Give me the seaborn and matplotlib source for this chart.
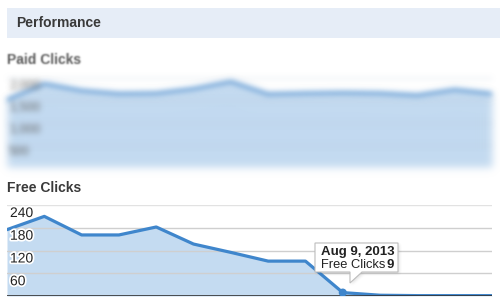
import numpy as np
import pandas as pd
import matplotlib
matplotlib.use("Agg")
import matplotlib.pyplot as plt
import matplotlib.patheffects as pe
import matplotlib.transforms as mtransforms
from matplotlib.patches import Rectangle, Polygon
import seaborn as sns

# ---------------- data ----------------
days = ["Jul 31", "Aug 1", "Aug 2", "Aug 3", "Aug 4", "Aug 5", "Aug 6",
        "Aug 7", "Aug 8", "Aug 9", "Aug 10", "Aug 11", "Aug 12", "Aug 13"]
paid_clicks = [1505, 1865, 1710, 1640, 1650, 1750, 1910,
               1630, 1650, 1660, 1650, 1605, 1730, 1640]
free_clicks = [175, 210, 161, 161, 182, 137, 115,
               92, 92, 9, 2, 1, 1, 1]
paid_ticks = [500, 1000, 1500, 2000]
paid_tick_labels = ["500", "1,000", "1,500", "2,000"]
free_ticks = [60, 120, 180, 240]
free_tick_labels = ["60", "120", "180", "240"]
highlight_index = 9
tooltip_date = "Aug 9, 2013"
tooltip_series = "Free Clicks"

# ---------------- style ----------------
sns.set_theme(style="white")
plt.rcParams["font.family"] = ["Liberation Sans", "DejaVu Sans"]

W, H = 500, 305
fig = plt.figure(figsize=(W / 100, H / 100), dpi=100)
fig.patch.set_facecolor("white")

LINE = "#3f86cc"
FILL = "#c4dbf1"
GRID = "#cfcfcf"


def rect(x0, y0, x1, y1):
    return [x0 / W, 1 - y1 / H, (x1 - x0) / W, (y1 - y0) / H]


def fx(x):
    return x / W


def fy(y):
    return 1 - y / H


def make_blur(sigma):
    r = int(3 * sigma) + 1
    xs = np.arange(-r, r + 1)
    k = np.exp(-xs ** 2 / (2.0 * sigma ** 2))
    k /= k.sum()

    def conv(arr, axis):
        n = arr.shape[axis]
        padw = [(r, r) if i == axis else (0, 0) for i in range(arr.ndim)]
        p = np.pad(arr, padw)
        out = np.zeros_like(arr)
        for j, w in enumerate(k):
            sl = [slice(None)] * arr.ndim
            sl[axis] = slice(j, j + n)
            out += w * p[tuple(sl)]
        return out

    def filt(im, dpi):
        a = np.pad(im, ((r, r), (r, r), (0, 0))).astype(float)
        pre = a.copy()
        pre[..., :3] *= pre[..., 3:4]
        pre = conv(conv(pre, 0), 1)
        alpha = pre[..., 3:4]
        out = pre.copy()
        out[..., :3] = pre[..., :3] / np.maximum(alpha, 1e-6)
        out = np.clip(out, 0, 1)
        return out, -r, -r

    return filt


blur = make_blur(2.8)
soft = make_blur(0.8)

# ---------------- header ----------------
fig.patches.append(Rectangle((fx(7), fy(38)), (500 - 7) / W, 30 / H,
                             transform=fig.transFigure, facecolor="#e6edf7",
                             edgecolor="none", zorder=0))
fig.text(fx(16), fy(23), "Performance", fontsize=10, fontweight="bold",
         color="#3a3a3a", va="center", ha="left")

# ---------------- Paid Clicks ----------------
t = fig.text(fx(7), fy(60), "Paid Clicks", fontsize=10, fontweight="bold",
             color="#5a5a5a", va="center", ha="left")
t.set_agg_filter(soft)

df_paid = pd.DataFrame({"idx": np.arange(len(days)), "clicks": paid_clicks})
ax1 = fig.add_axes(rect(7, 74, 492, 167))
ax1.fill_between(df_paid["idx"], 0, df_paid["clicks"], color=FILL, lw=0,
                 zorder=1, agg_filter=blur)
sns.lineplot(data=df_paid, x="idx", y="clicks", ax=ax1, color="#5c97d2",
             linewidth=2.6, zorder=3)
ax1.lines[-1].set_agg_filter(blur)
ax1.set_xlim(0, len(days) - 1)
ax1.set_ylim(0, 2090)
for v in paid_ticks:
    ln = ax1.axhline(v, color="#b8c8d8", lw=0.8, zorder=2, alpha=0.5)
    ln.set_agg_filter(blur)
lab_tr1 = mtransforms.offset_copy(ax1.get_yaxis_transform(), fig=fig, x=2,
                                  y=-7, units="dots")
for v, s in zip(paid_ticks, paid_tick_labels):
    tt = ax1.text(0.0, v, s, transform=lab_tr1, fontsize=9, color="#666666",
                  va="center", ha="left", zorder=4)
    tt.set_agg_filter(blur)
ax1.set_axis_off()

# ---------------- Free Clicks ----------------
fig.text(fx(7), fy(188), "Free Clicks", fontsize=10, fontweight="bold",
         color="#3a3a3a", va="center", ha="left")

df_free = pd.DataFrame({"idx": np.arange(len(days)), "clicks": free_clicks})
ax2 = fig.add_axes(rect(7, 205, 492, 296))
ax2.fill_between(df_free["idx"], 0, df_free["clicks"], color=FILL, lw=0,
                 zorder=1)
for v in free_ticks:
    ax2.axhline(v, color=GRID, lw=1.0, zorder=2,
                alpha=0.6 if v == 240 else 1.0)
sns.lineplot(data=df_free, x="idx", y="clicks", ax=ax2, color=LINE,
             linewidth=2.3, zorder=3)
ax2.axhline(0, color="#333333", lw=1.2, zorder=4)
ax2.scatter([highlight_index], [free_clicks[highlight_index]], s=34,
            color=LINE, zorder=5, edgecolors="none")
ax2.set_xlim(0, len(days) - 1)
ax2.set_ylim(0, 240)
lab_tr2 = mtransforms.offset_copy(ax2.get_yaxis_transform(), fig=fig, x=3,
                                  y=-8, units="dots")
for v, s in zip(free_ticks, free_tick_labels):
    ax2.text(0.0, v, s, transform=lab_tr2, fontsize=10, color="#222222",
             va="center", ha="left", zorder=6,
             path_effects=[pe.withStroke(linewidth=2.5, foreground="white")])
ax2.set_axis_off()

# ---------------- tooltip ----------------
pts = [(315, 243), (398, 243), (398, 272), (362, 272), (350, 283),
       (350, 272), (315, 272)]
shadow = Polygon([(fx(x + 1.5), fy(y + 1.5)) for x, y in pts], closed=True,
                 transform=fig.transFigure, facecolor="#000000", alpha=0.12,
                 edgecolor="none", zorder=8)
shadow.set_agg_filter(make_blur(1.5))
fig.patches.append(shadow)
fig.patches.append(Polygon([(fx(x), fy(y)) for x, y in pts], closed=True,
                           transform=fig.transFigure, facecolor="white",
                           edgecolor="#bdbdbd", lw=0.8, zorder=9))
fig.text(fx(321), fy(252.5), tooltip_date, fontsize=9.5, fontweight="bold",
         color="#222222", va="center", ha="left", zorder=10)
fig.text(fx(321), fy(264.5), tooltip_series, fontsize=9.3, color="#222222",
         va="center", ha="left", zorder=10)
fig.text(fx(386.5), fy(264.5), str(free_clicks[highlight_index]), fontsize=9.5,
         fontweight="bold", color="#222222", va="center", ha="left", zorder=10)

fig.savefig("out.png", dpi=100)
